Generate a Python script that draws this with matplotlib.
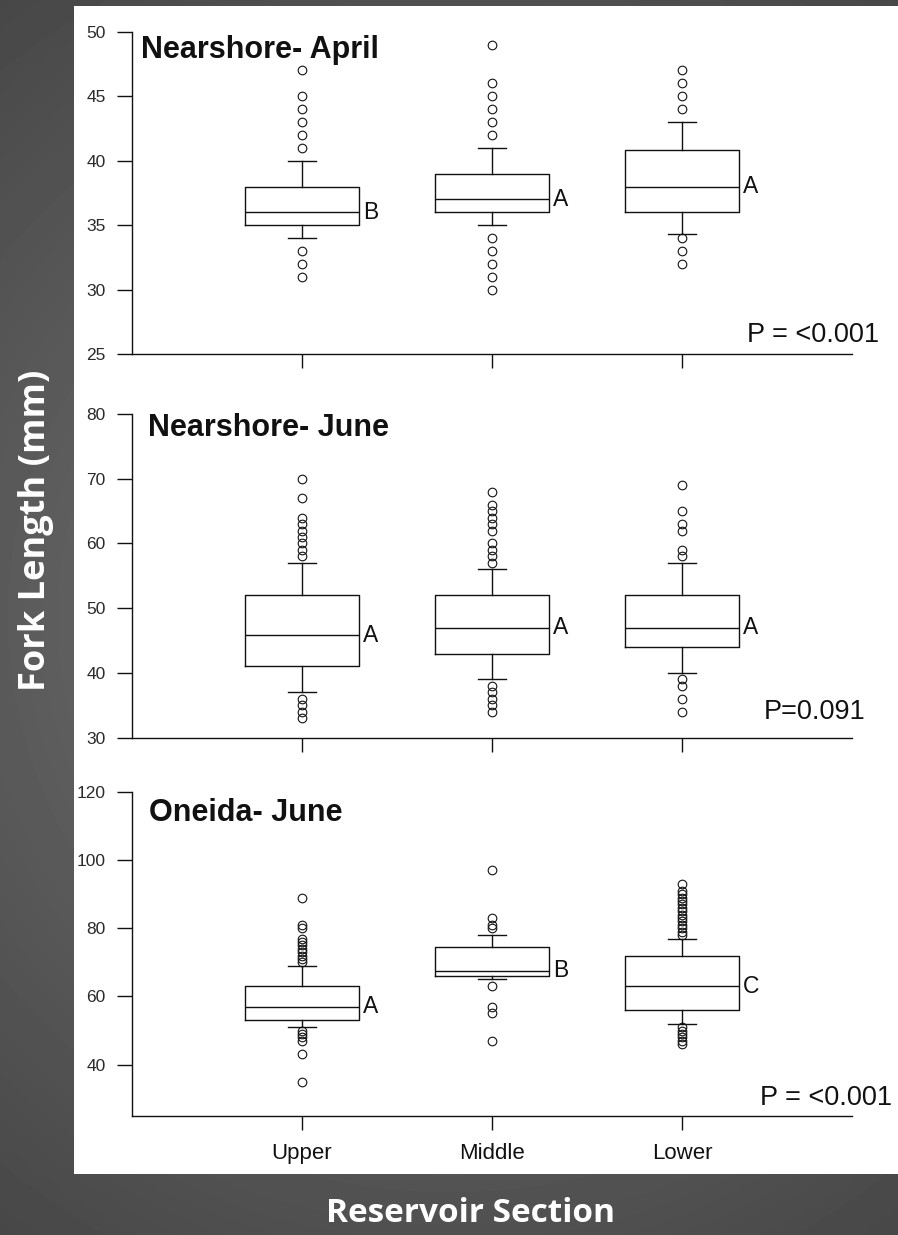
import matplotlib
matplotlib.use("Agg")
import matplotlib.pyplot as plt
import numpy as np
from matplotlib.patches import Rectangle

# reservoir sections on the x axis
sections = ["Upper", "Middle", "Lower"]

# Nearshore - April
apr_q1 = [35, 36, 36]
apr_med = [36, 37, 38]
apr_q3 = [38, 39, 40.8]
apr_lo = [34, 35, 34.3]
apr_hi = [40, 41, 43]
apr_fliers = [
    [31, 32, 33, 41, 42, 43, 44, 45, 47],
    [30, 31, 32, 33, 34, 42, 43, 44, 45, 46, 49],
    [32, 33, 34, 44, 45, 46, 47],
]
apr_letters = ["B", "A", "A"]
apr_p = "P = <0.001"

# Nearshore - June
jun_q1 = [41, 43, 44]
jun_med = [45.8, 47, 47]
jun_q3 = [52, 52, 52]
jun_lo = [37, 39, 40]
jun_hi = [57, 56, 57]
jun_fliers = [
    [33, 34, 35, 36, 58, 59, 60, 61, 62, 63, 64, 67, 70],
    [34, 35, 36, 37, 38, 57, 58, 59, 60, 62, 63, 64, 65, 66, 68],
    [34, 36, 38, 39, 58, 59, 62, 63, 65, 69],
]
jun_letters = ["A", "A", "A"]
jun_p = "P=0.091"

# Oneida - June
one_q1 = [53, 66, 56]
one_med = [57, 67.6, 63]
one_q3 = [63, 74.5, 72]
one_lo = [51, 65, 52]
one_hi = [69, 78, 77]
one_fliers = [
    [35, 43, 47, 48, 49, 50, 70, 71, 72, 73, 74, 75, 76, 77, 80, 81, 89],
    [47, 55, 57, 63, 80, 81, 83, 97],
    [46, 47, 48, 49, 50, 51, 78, 79, 80, 81, 82, 83, 84, 85, 86, 87, 88, 89, 90, 91, 93],
]
one_letters = ["A", "B", "C"]
one_p = "P = <0.001"

plt.rcParams['font.family'] = ['Liberation Sans', 'DejaVu Sans']

W, H = 898, 1235
fig = plt.figure(figsize=(W / 100, H / 100), dpi=100)

# dark slide background with a soft radial light, white chart area on top
bg = fig.add_axes([0, 0, 1, 1], zorder=-5)
yy, xx = np.mgrid[0:H, 0:W]
shade = 0.46 - 0.18 * np.hypot(xx - 450, yy - 617) / 762
bg.imshow(shade, cmap='gray', vmin=0, vmax=1, extent=(0, W, H, 0), aspect='auto')
bg.add_patch(Rectangle((74, 6), W - 74, 1168, facecolor='white', edgecolor='none'))
bg.set_xlim(0, W)
bg.set_ylim(H, 0)
bg.axis('off')

ink = '#111111'
panels = [
    ("Nearshore- April", apr_q1, apr_med, apr_q3, apr_lo, apr_hi, apr_fliers, apr_letters, apr_p,
     (25, 50), [25, 30, 35, 40, 45, 50], [0.7131, 0.2612], (0.0125, 0.9175), (1.0375, 0.038)),
    ("Nearshore- June", jun_q1, jun_med, jun_q3, jun_lo, jun_hi, jun_fliers, jun_letters, jun_p,
     (30, 80), [30, 40, 50, 60, 70, 80], [0.4027, 0.2621], (0.022, 0.932), (1.019, 0.058)),
    ("Oneida- June", one_q1, one_med, one_q3, one_lo, one_hi, one_fliers, one_letters, one_p,
     (25, 120), [40, 60, 80, 100, 120], [0.0966, 0.2621], (0.024, 0.911), (1.0556, 0.033)),
]

pos = [1, 2, 3]
for k, (title, q1, med, q3, lo, hi, fl, letters, ptxt, ylim, yt, (bot, ht), tpos, ppos) in enumerate(panels):
    ax = fig.add_axes([132 / W, bot, 720 / W, ht])
    ax.patch.set_alpha(0)
    stats = [dict(q1=q1[i], med=med[i], q3=q3[i], whislo=lo[i], whishi=hi[i], fliers=fl[i])
             for i in range(3)]
    line = dict(color=ink, linewidth=1.0)
    ax.bxp(stats, positions=pos, widths=0.6, capwidths=0.15,
           boxprops=line, whiskerprops=line, capprops=line, medianprops=line,
           flierprops=dict(marker='o', markerfacecolor='none', markeredgecolor=ink,
                           markersize=6.2, markeredgewidth=0.8, linestyle='none'))
    for i in range(3):
        ax.text(pos[i] + 0.32, med[i], letters[i], ha='left', va='center', fontsize=16.5, color=ink)

    ax.set_xlim(0.105, 3.895)
    ax.set_ylim(*ylim)
    ax.set_yticks(yt)
    ax.set_xticks(pos)
    if k == 2:
        ax.set_xticklabels(sections, fontsize=16, color=ink)
    else:
        ax.set_xticklabels([])
    for s in ['top', 'right']:
        ax.spines[s].set_visible(False)
    for s in ['left', 'bottom']:
        ax.spines[s].set_linewidth(1.0)
        ax.spines[s].set_color(ink)
    ax.tick_params(axis='y', direction='out', length=11, width=1, pad=8, labelsize=12.5,
                   labelcolor='#2a2a2a', color=ink)
    ax.tick_params(axis='x', direction='out', length=10, width=1, pad=10, color=ink)

    ax.text(tpos[0], tpos[1], title, transform=ax.transAxes, ha='left', va='baseline',
            fontsize=22, fontweight='bold', color=ink)
    ax.text(ppos[0], ppos[1], ptxt, transform=ax.transAxes, ha='right', va='baseline',
            fontsize=19.5, color=ink, clip_on=False)

fig.text(470 / W, 1 - 1222 / H, "Reservoir Section", ha='center', va='baseline',
         color='white', fontsize=24, fontweight='bold', family=['Open Sans', 'DejaVu Sans'])
fig.text(36 / W, 1 - 530 / H, "Fork Length (mm)", rotation=90, ha='center', va='center',
         color='white', fontsize=26, fontweight='bold', family=['Open Sans', 'DejaVu Sans'])

fig.savefig("out.png", dpi=100)
